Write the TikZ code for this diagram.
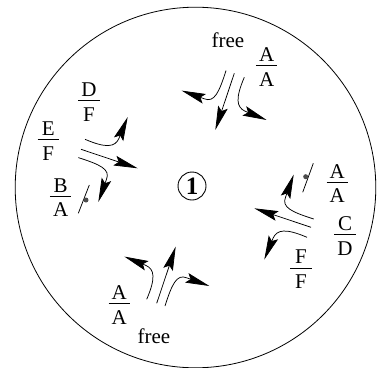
\documentclass[tikz,border=0pt]{standalone}
\usepackage{amsmath}
\usepackage{fontspec}
\setmainfont{Liberation Serif}
\usetikzlibrary{arrows.meta}
\tikzset{lane/.style={draw=black,line width=.75pt},
 lanearrow/.style={lane,-{Stealth[length=24pt,width=10pt,inset=4pt]}},
 stopbar/.style={draw=black,line width=.75pt},
 stopdot/.style={circle,fill=black!70,inner sep=0pt,minimum size=5pt},
 note/.style={text=black,font=\fontsize{21}{24}\selectfont,inner sep=0pt},
 fracnote/.style={note,yshift=-5pt},
 zonemark/.style={circle,draw=black,line width=.9pt,minimum size=28pt,inner sep=0pt,font=\fontsize{25}{27}\selectfont\bfseries},
 boundary/.style={draw=black,line width=.8pt}}
\newcommand{\lanefrac}[2]{$\dfrac{\smash{\raisebox{-4.5pt}{\makebox[21.5pt]{#1}}}}{\smash{\raisebox{-1pt}{#2}}}$}
% one approach: left branch, straight branch, right branch
\newcommand{\approachfan}[1]{%
 \coordinate (#1ls) at (-8.3,-2.7);
 \coordinate (#1lb) at (-30,25.5);
 \coordinate (#1lt) at (-52.7,17.3);
 \coordinate (#1cs) at (0,0);
 \coordinate (#1ct) at (-19,56.7);
 \coordinate (#1rs) at (10,4);
 \coordinate (#1rb) at (11,38);
 \coordinate (#1rt) at (32.3,46.7);
 \draw[lanearrow] (#1ls) .. controls +(-7,22) and +(10,4) .. (#1lb) -- (#1lt);
 \draw[lanearrow] (#1cs) -- (#1ct);
 \draw[lanearrow] (#1rs) .. controls +(-9,21) and +(-9,-4) .. (#1rb) -- (#1rt);}

\begin{document}
\begin{tikzpicture}[x=1pt,y=-1pt]
 \useasboundingbox (0,0) rectangle (377,367);
 \node[boundary,circle,minimum size=360.6pt,inner sep=0pt] (rim) at (195.5,187.5) {};
 \node[zonemark] (zone) at (192,186) {1};
 \begin{scope}[shift={(234.3,73.3)}]
  \approachfan{n}
 \end{scope}
 \begin{scope}[shift={(81,149.3)},rotate=90]
  \approachfan{w}
 \end{scope}
 \begin{scope}[shift={(156.7,303.3)},rotate=180]
  \approachfan{s}
 \end{scope}
 \begin{scope}[shift={(311,227.3)},rotate=270]
  \approachfan{e}
 \end{scope}
 % stop bars
 \coordinate (wbara) at (89.3,185);
 \coordinate (wbarb) at (78.3,213.3);
 \draw[stopbar] (wbara) -- (wbarb);
 \node[stopdot] (wdot) at (86,200) {};
 \coordinate (ebara) at (313.3,163.3);
 \coordinate (ebarb) at (302.7,192.3);
 \draw[stopbar] (ebara) -- (ebarb);
 \node[stopdot] (edot) at (305.7,176.7) {};
 % labels
 \node[note] (nfree) at (228,40.7) {free};
 \node[fracnote] (nfrac) at (266.7,66) {\lanefrac{A}{A}};
 \node[fracnote] (wfraca) at (89,101) {\lanefrac{D}{F}};
 \node[fracnote] (wfracb) at (48.3,140) {\lanefrac{E}{F}};
 \node[fracnote] (wfracc) at (60.7,196.7) {\lanefrac{B}{A}};
 \node[fracnote] (efraca) at (337.3,182.7) {\lanefrac{A}{A}};
 \node[fracnote] (efracb) at (345,235) {\lanefrac{C}{D}};
 \node[fracnote] (efracc) at (301,268.3) {\lanefrac{F}{F}};
 \node[fracnote] (sfrac) at (119.3,304) {\lanefrac{A}{A}};
 \node[note] (sfree) at (154,336.7) {free};
\end{tikzpicture}
\end{document}
